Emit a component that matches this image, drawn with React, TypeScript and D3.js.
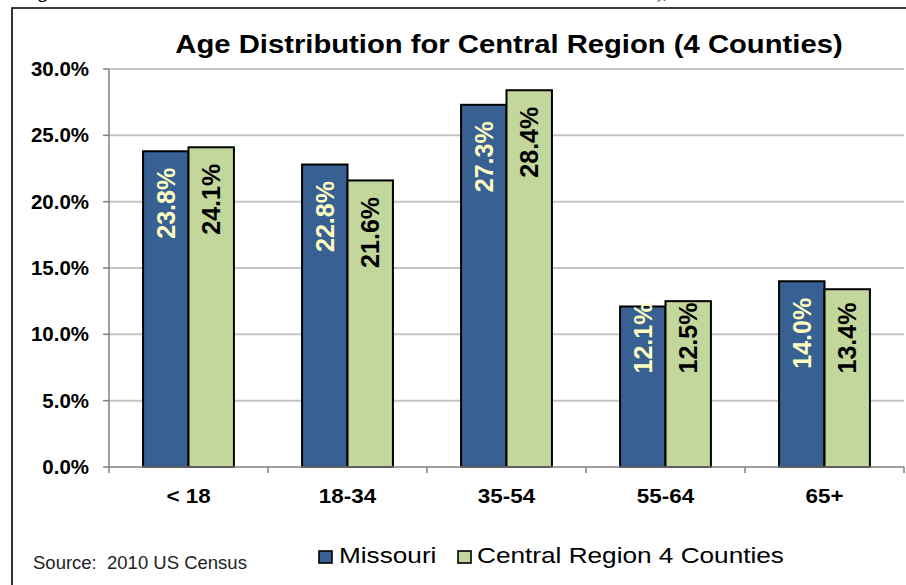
import React from "react";
import * as d3 from "d3";

const categories = ["< 18", "18-34", "35-54", "55-64", "65+"];
const seriesNames = ["Missouri", "Central Region 4 Counties"];
const missouri = [23.8, 22.8, 27.3, 12.1, 14.0];
const central = [24.1, 21.6, 28.4, 12.5, 13.4];
const yTicks = [0, 5, 10, 15, 20, 25, 30];
const title = "Age Distribution for Central Region (4 Counties)";
const source = "Source:  2010 US Census";

const W = 906;
const H = 585;
const FONT = "'Liberation Sans', Arial, Helvetica, sans-serif";
const COLORS = ["#386092", "#C3D69B"];
const LABEL_COLORS = ["#FFFFC2", "#000000"];

const T = ({ x, y, sx = 1, children, ...rest }: any) => (
  <text transform={`translate(${x},${y}) scale(${sx},1)`} {...rest}>
    {children}
  </text>
);

export default function App() {
  const plotL = 109;
  const plotR = 904;
  const plotT = 69;
  const plotB = 467;

  const y = d3.scaleLinear().domain([0, 30]).range([plotB, plotT]);
  const x0 = d3.scaleBand<string>().domain(categories).range([plotL, plotR]).paddingInner(0).paddingOuter(0);
  const bw = x0.bandwidth();
  const gapHalf = (bw * 0.75) / 3.5;
  const x1 = d3.scaleBand<string>().domain(seriesNames).range([gapHalf, bw - gapHalf]).padding(0);

  const data = [missouri, central];
  const boundaries = categories.map((c) => x0(c) as number).concat([plotR]);

  return (
    <svg
      width={W}
      height={H}
      viewBox={`0 0 ${W} ${H}`}
      style={{ position: "absolute", left: 0, top: 0, background: "#fff" }}
      fontFamily={FONT}
    >
      <rect x={0} y={0} width={W} height={H} fill="#fff" />
      {/* clipped caption remnants */}
      <text x={47} y={-2} textAnchor="end" fontFamily="'Liberation Serif', serif" fontWeight="bold" fontSize={18}>
        Fig
      </text>
      <text x={657} y={-2} fontFamily="'Liberation Serif', serif" fontSize={18}>
        ),
      </text>
      {/* frame */}
      <path d={`M12,${H + 2} L12,8 L${W + 2},8`} fill="none" stroke="#000" strokeWidth={1.6} />

      {/* title */}
      <T x={509} y={53} sx={1.16} textAnchor="middle" fontWeight="bold" fontSize={25.2} fill="#000">
        {title}
      </T>

      {/* gridlines */}
      {yTicks.filter((t) => t > 0).map((t) => (
        <line key={t} x1={plotL} x2={plotR} y1={y(t)} y2={y(t)} stroke="#C4C4C4" strokeWidth={2} />
      ))}

      {/* bars */}
      {categories.map((c, i) => (
        <g key={c} transform={`translate(${x0(c)},0)`}>
          {seriesNames.map((s, si) => {
            const v = data[si][i];
            return (
              <rect
                key={s}
                x={x1(s)}
                y={y(v)}
                width={x1.bandwidth()}
                height={y(0) - y(v)}
                fill={COLORS[si]}
                stroke="#000"
                strokeWidth={2}
              />
            );
          })}
        </g>
      ))}

      {/* data labels */}
      {categories.map((c, i) =>
        seriesNames.map((s, si) => {
          const v = data[si][i];
          const cx = (x0(c) as number) + (x1(s) as number) + x1.bandwidth() / 2;
          const cy = Math.min(y(v) + 52, 338);
          return (
            <text
              key={c + s}
              transform={`translate(${cx},${cy}) rotate(-90)`}
              textAnchor="middle"
              dominantBaseline="central"
              fontWeight="bold"
              fontSize={25}
              fill={LABEL_COLORS[si]}
            >
              {v.toFixed(1) + "%"}
            </text>
          );
        })
      )}

      {/* y axis */}
      <line x1={plotL} x2={plotL} y1={plotT} y2={plotB} stroke="#7F7F7F" strokeWidth={1.5} />
      {yTicks.map((t) => (
        <g key={t}>
          <line x1={plotL - 6} x2={plotL} y1={y(t)} y2={y(t)} stroke="#7F7F7F" strokeWidth={1.5} />
          <T x={89} y={y(t) + 7} sx={1.05} textAnchor="end" fontWeight="bold" fontSize={19.5} fill="#000">
            {t.toFixed(1) + "%"}
          </T>
        </g>
      ))}

      {/* x axis */}
      <line x1={plotL} x2={plotR} y1={plotB} y2={plotB} stroke="#7F7F7F" strokeWidth={1.5} />
      {boundaries.map((b, i) => (
        <line key={i} x1={b} x2={b} y1={plotB} y2={plotB + 6} stroke="#7F7F7F" strokeWidth={1.5} />
      ))}
      {categories.map((c) => (
        <T key={c} x={(x0(c) as number) + bw / 2} y={503} sx={1.12} textAnchor="middle" fontWeight="bold" fontSize={20} fill="#000">
          {c}
        </T>
      ))}

      {/* legend */}
      {seriesNames.map((s, si) => {
        const lx = [319, 458][si];
        const tx = [339, 477][si];
        return (
          <g key={s}>
            <rect x={lx} y={551} width={13} height={12} fill={COLORS[si]} stroke="#000" strokeWidth={1.6} />
            <T x={tx} y={563} sx={1.19} fontSize={22} fill="#000">
              {s}
            </T>
          </g>
        );
      })}

      {/* source */}
      <text x={33} y={569} fontSize={18.5} fill="#222" style={{ whiteSpace: "pre" }}>
        {source}
      </text>
    </svg>
  );
}
